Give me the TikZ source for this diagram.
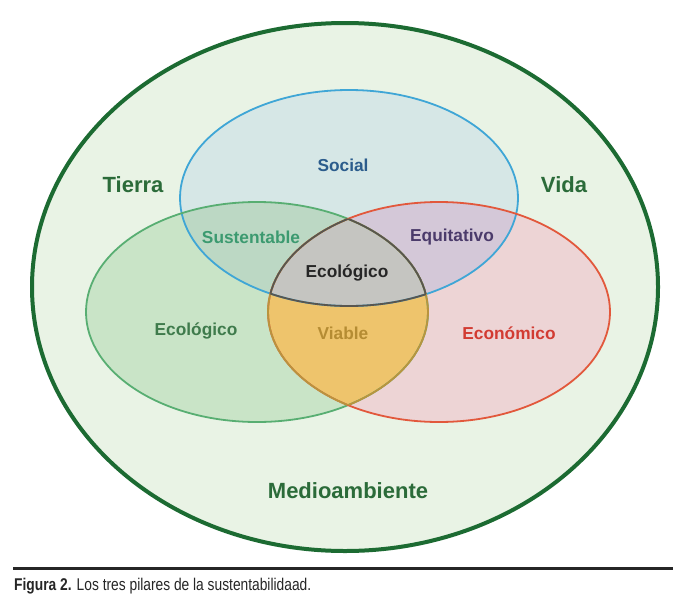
\documentclass[tikz,border=0pt]{standalone}
\usepackage{fontspec}
\setmainfont{Liberation Sans}
\definecolor{outerfill}{HTML}{E9F3E5}
\definecolor{outerline}{HTML}{1C6B32}
\definecolor{bluefill}{HTML}{D6E7E6}
\definecolor{blueline}{HTML}{3FA6D6}
\definecolor{greenfill}{HTML}{C9E4C7}
\definecolor{greenline}{HTML}{58AE72}
\definecolor{redfill}{HTML}{EDD4D5}
\definecolor{redline}{HTML}{E2583C}
\definecolor{bgfill}{HTML}{BCD8C4}
\definecolor{brfill}{HTML}{D4C8D8}
\definecolor{grfill}{HTML}{EEC46C}
\definecolor{allfill}{HTML}{C5C5C1}
\definecolor{allline}{HTML}{585650}
\definecolor{ochreline}{HTML}{B9943E}
\definecolor{tdkgreen}{HTML}{2B6B39}
\definecolor{tsocial}{HTML}{2B5C8C}
\definecolor{tsust}{HTML}{3C9A70}
\definecolor{tequi}{HTML}{4B3B6B}
\definecolor{tecol}{HTML}{3F7B4C}
\definecolor{tviable}{HTML}{B58C33}
\definecolor{tecon}{HTML}{D23B32}
\def\pOuter{(345,287) ellipse [x radius=313pt, y radius=264pt]}
\def\pBlue{(349,198) ellipse [x radius=169pt, y radius=108pt]}
\def\pGreen{(257,312) ellipse [x radius=171pt, y radius=110pt]}
\def\pRed{(439,312) ellipse [x radius=171pt, y radius=110pt]}
\tikzset{
  inlabel/.style={font=\fontsize{17.3}{20}\selectfont\bfseries},
  outlabel/.style={font=\fontsize{22}{26}\selectfont\bfseries, text=tdkgreen},
  venn/.style={line width=1.8pt}
}
\begin{document}
\begin{tikzpicture}[x=1pt,y=-1pt]
\useasboundingbox (0,0) rectangle (679,613);
\fill[white] (0,0) rectangle (679,613);
% outer environment
\fill[outerfill] \pOuter;
% base fills
\fill[bluefill] \pBlue;
\fill[greenfill] \pGreen;
\fill[redfill] \pRed;
% pairwise intersections
\begin{scope}\clip \pBlue; \fill[bgfill] \pGreen; \end{scope}
\begin{scope}\clip \pBlue; \fill[brfill] \pRed; \end{scope}
\begin{scope}\clip \pGreen; \fill[grfill] \pRed; \end{scope}
\begin{scope}\clip \pBlue; \clip \pGreen; \fill[allfill] \pRed; \end{scope}
% outlines
\draw[venn, blueline] \pBlue;
\draw[venn, greenline] \pGreen;
\draw[venn, redline] \pRed;
% viable outline
\begin{scope}\clip \pGreen; \draw[venn, ochreline] \pRed; \end{scope}
\begin{scope}\clip \pRed; \draw[venn, ochreline] \pGreen; \end{scope}
% centre outline
\begin{scope}\clip \pBlue; \clip \pGreen; \draw[venn, allline] \pRed; \end{scope}
\begin{scope}\clip \pBlue; \clip \pRed; \draw[venn, allline] \pGreen; \end{scope}
\begin{scope}\clip \pGreen; \clip \pRed; \draw[venn, allline] \pBlue; \end{scope}
% outer outline
\draw[outerline, line width=4pt] \pOuter;
% labels
\node[inlabel, text=tsocial] (social) at (343,165) {Social};
\node[outlabel] (tierra) at (133,185) {Tierra};
\node[outlabel] (vida) at (564,185) {Vida};
\node[inlabel, text=tsust] (sust) at (251,237) {Sustentable};
\node[inlabel, text=tequi] (equi) at (452,237) {Equitativo};
\node[inlabel, text=black!85] (ecocen) at (347,273) {Ecológico};
\node[inlabel, text=tecol] (ecol) at (196,331) {Ecológico};
\node[inlabel, text=tviable] (viable) at (343,333) {Viable};
\node[inlabel, text=tecon] (econ) at (509,333) {Económico};
\node[outlabel] (medio) at (348,491) {Medioambiente};
% caption
\coordinate (rulel) at (13,568);
\coordinate (ruler) at (673,568);
\draw[line width=3pt, black!85] (rulel) -- (ruler);
\node[anchor=base west, inner sep=0pt, text=black!85] (caption) at (14,590.5)
  {\resizebox{297pt}{\height}{\fontsize{17}{20}\selectfont\textbf{Figura 2.} Los tres pilares de la sustentabilidaad.}};
\end{tikzpicture}
\end{document}
